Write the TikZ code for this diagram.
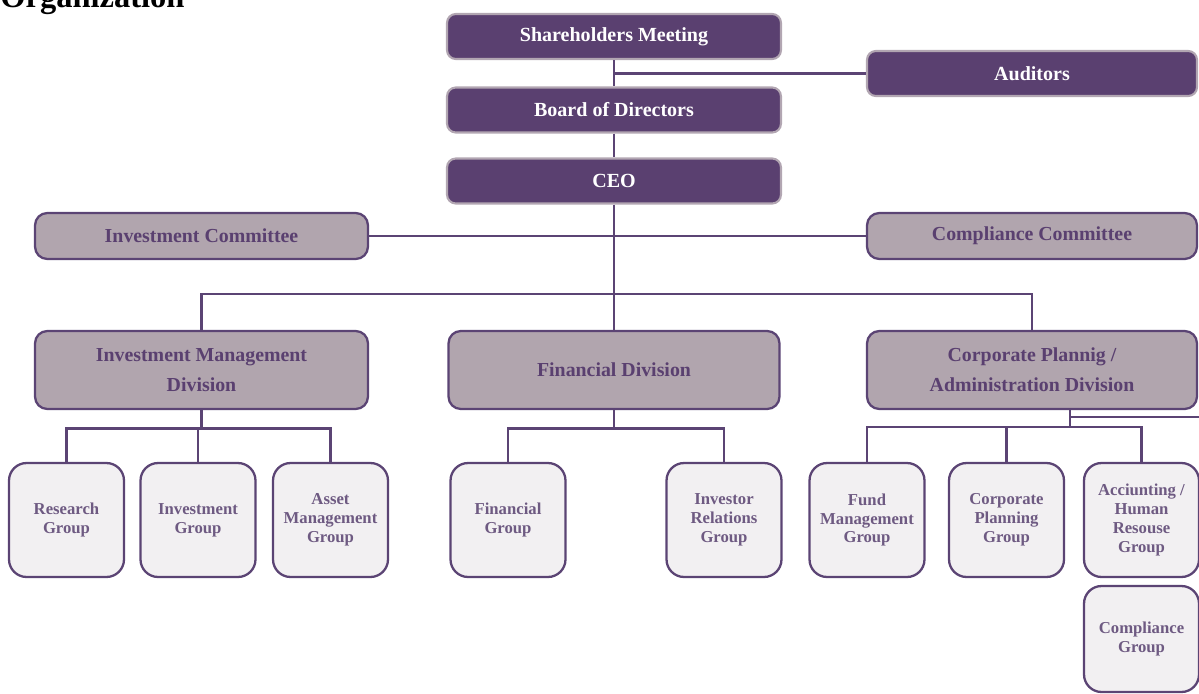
\documentclass[tikz,border=0pt]{standalone}
\usepackage{fontspec}
\setmainfont{Liberation Serif}
\usepackage{tikz}
\usetikzlibrary{positioning}

\definecolor{plum}{RGB}{90,64,112}
\definecolor{plumline}{RGB}{91,68,116}
\definecolor{plumedge}{RGB}{178,166,178}
\definecolor{mauve}{RGB}{177,165,174}
\definecolor{mist}{RGB}{242,240,242}
\definecolor{plumtext}{RGB}{110,90,130}

\begin{document}
\begin{tikzpicture}[x=0.02cm, y=-0.02cm,
    topbox/.style={draw=plumedge, line width=1.2pt, fill=plum,
        rounded corners=5pt, minimum height=0.9cm,
        text=white, font=\bfseries\fontsize{11.4}{13}\selectfont},
    midbox/.style={draw=plumline, line width=1.3pt, fill=mauve,
        rounded corners=7pt, align=center,
        text=plum, font=\bfseries\fontsize{11.3}{17}\selectfont},
    groupbox/.style={draw=plumline, line width=1.3pt, fill=mist,
        rounded corners=10pt, align=center,
        minimum width=2.3cm, minimum height=2.28cm,
        text=plumtext, font=\bfseries\fontsize{9.5}{10.8}\selectfont},
    link/.style={draw=plumline, line width=1.6pt}]

    \useasboundingbox (0,0) rectangle (1199,693);

    \node[anchor=base west, inner sep=0pt, font=\bfseries\fontsize{18.5}{20}\selectfont]
    (title) at (0,8) {Organization};

    % top of the chart
    \node[topbox, minimum width=6.68cm] (share) at (614,36.5) {Shareholders Meeting};
    \node[topbox, minimum width=6.6cm] (audit) at (1032,73.5) {Auditors};
    \node[topbox, minimum width=6.68cm] (board) at (614,110) {Board of Directors};
    \node[topbox, minimum width=6.68cm] (ceo) at (614,181) {CEO};

    \node[midbox, minimum width=6.66cm, minimum height=0.92cm]
    (invcom) at (201.5,236) {Investment Committee};
    \node[midbox, minimum width=6.6cm, minimum height=0.92cm]
    (comcom) at (1032,236) {Compliance Committee};

    % divisions
    \node[midbox, minimum width=6.66cm, minimum height=1.56cm]
    (imd) at (201.5,370) {Investment Management\\Division};
    \node[midbox, minimum width=6.62cm, minimum height=1.56cm]
    (fd) at (614,370) {Financial Division};
    \node[midbox, minimum width=6.6cm, minimum height=1.56cm]
    (cpd) at (1032,370) {Corporate Plannig /\\Administration Division};

    % groups
    \node[groupbox] (research) at (66.5,520) {Research\\Group};
    \node[groupbox] (invgrp) at (198,520) {Investment\\Group};
    \node[groupbox] (asset) at (330.5,520) {Asset\\Management\\Group};
    \node[groupbox] (fingrp) at (508,520) {Financial\\Group};
    \node[groupbox] (irgrp) at (724,520) {Investor\\Relations\\Group};
    \node[groupbox] (fund) at (867,520) {Fund\\Management\\Group};
    \node[groupbox] (cpgrp) at (1006.5,520) {Corporate\\Planning\\Group};
    \node[groupbox] (acct) at (1141.5,520) {Acciunting /\\Human\\Resouse\\Group};
    \node[groupbox, minimum height=2.12cm] (compgrp) at (1141.5,639) {Compliance\\Group};

    \coordinate (bus) at (614,294);
    \coordinate (cpdbus) at (1070,409);
    \coordinate (edge) at (1199,417);

    % connectors
    \draw[link] (share.south) -- (board.north);
    \draw[link] (share.south |- audit.west) -- (audit.west);
    \draw[link] (board.south) -- (ceo.north);
    \draw[link] (ceo.south) -- (fd.north);
    \draw[link] (invcom.east) -- (comcom.west);
    \draw[link] (bus) -| (imd.north);
    \draw[link] (bus) -| (cpd.north);

    \foreach \g in {research, invgrp, asset}
        \draw[link] (imd.south) -- ++(0,18) -| (\g.north);
    \foreach \g in {fingrp, irgrp}
        \draw[link] (fd.south) -- ++(0,18) -| (\g.north);
    \foreach \g in {fund, cpgrp, acct}
        \draw[link] (cpdbus) -- ++(0,18) -| (\g.north);
    \draw[link] (cpdbus |- edge) -- (edge);
\end{tikzpicture}
\end{document}
